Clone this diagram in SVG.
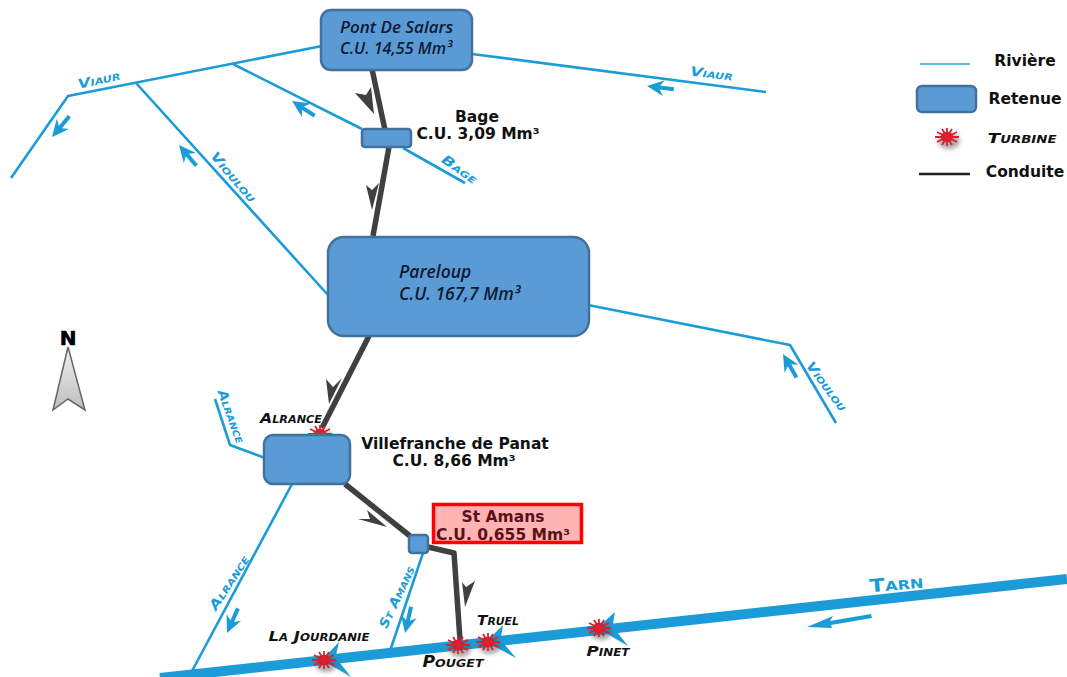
<svg xmlns="http://www.w3.org/2000/svg" width="1067" height="677" viewBox="0 0 1067 677">
<style>
.riv{fill:none;stroke:#1b9bd7;stroke-width:2.6;stroke-linejoin:round}
.pipe{fill:none;stroke:#404040;stroke-width:5.500;stroke-linejoin:round}
.res{fill:#5b9bd5;stroke:#41719c;stroke-width:2.5}
.arr{fill:#1b9bd7}
.garr{fill:#404040}
.lbl{font-family:"DejaVu Sans",sans-serif;font-weight:700;fill:#111;font-size:15.5px;text-anchor:middle}
.it{font-family:"Open Sans","DejaVu Sans",sans-serif;font-style:italic;font-weight:600;fill:#0d1a33;font-size:17px}
.rl{font-family:"DejaVu Sans",sans-serif;font-weight:700;font-style:italic;fill:#1b9bd7;font-size:13px;font-variant:small-caps;text-anchor:middle}
.tl{font-family:"DejaVu Sans",sans-serif;font-weight:700;font-style:italic;fill:#111;font-size:14px;font-variant:small-caps;text-anchor:middle}
.star{stroke:#dd2030;stroke-width:1.800;fill:none}
</style>
<defs>
<linearGradient id="ng" x1="0" y1="0" x2="0" y2="1"><stop offset="0" stop-color="#f0f0f0"/><stop offset="1" stop-color="#bdbdbd"/></linearGradient>
<filter id="sh" x="-50%" y="-50%" width="200%" height="200%"><feGaussianBlur stdDeviation="2"/></filter>
<g id="turb">
<ellipse cx="2" cy="4" rx="11" ry="8" fill="#555" opacity=".5" filter="url(#sh)"/>
<ellipse rx="6" ry="5" fill="#a81a26"/>
<path class="star" d="M-12 0H12M0-9V9M-10-5L10 5M-10 5L10-5M-5-8L5 8M-5 8L5-8"/>
</g>
<path id="blue" class="arr" d="M0 0L17-8L13-2L27-2V2L13 2L17 8Z"/>
</defs>

<g id="connectors">
<g id="rivers">
<path class="riv" d="M11 178L68 96L322 46"/>
<path class="riv" d="M233 64L362 129"/>
<path class="riv" d="M136 83L328 295"/>
<path class="riv" d="M472 54L766 92"/>
<path class="riv" d="M403 148L465 183"/>
<path class="riv" d="M588 305L790 345L836 423"/>
<path class="riv" d="M215 399L230 445L265 458"/>
<path class="riv" d="M292 484L191 673"/>
<path class="riv" d="M423 553L390 651"/>
<path d="M160 678L1067 579" fill="none" stroke="#1b9bd7" stroke-width="10"/>
</g>
<g id="flow-arrows">
<use href="#blue" transform="translate(52 137) rotate(-50)"/>
<use href="#blue" transform="translate(292 101) rotate(33)"/>
<use href="#blue" transform="translate(179 145) rotate(50)"/>
<use href="#blue" transform="translate(647 86) rotate(7)"/>
<use href="#blue" transform="translate(783 354) rotate(60)"/>
<use href="#blue" transform="translate(227 633) rotate(-66)"/>
<use href="#blue" transform="translate(405 633) rotate(-77)"/>
<path class="arr" d="M807 627L833 616L830 621L871 614L872 618L831 625L832 628Z"/>
<path class="arr" d="M597 628L615 612L613 624L617 632L628 646Z"/>
<path class="arr" d="M486 642L503 625L501 637L505 645L516 658Z"/>
<path class="arr" d="M322 660L339 642L336 655L340 663L351 677Z"/>
</g>
<g id="pipes">
<path class="pipe" d="M372 69L385 130"/>
<path class="pipe" d="M389 147L373 236"/>
<path class="pipe" d="M369 336L322 428"/>
<path class="pipe" d="M345 484L410 536"/>
<path class="pipe" d="M428 547L454 553L460 640"/>
</g>
<g id="pipe-arrows">
<path class="garr" d="M374 114L355 93L366 95L371 87Z"/>
<path class="garr" d="M372 210L366 185L372 190L379 183Z"/>
<path class="garr" d="M329 404L326 379L333 387L342 378Z"/>
<path class="garr" d="M387 527L358 519L370 519L367 510Z"/>
<path class="garr" d="M465 607L462 582L466 587L475 581Z"/>
</g>
</g>

<g id="node-pont-de-salars">
<rect class="res" x="321" y="10" width="151" height="60" rx="10"/>
<text class="it" x="340" y="33">Pont De Salars</text>
<text class="it" x="340" y="54" style="font-size:16.200px">C.U. 14,55 Mm³</text>
</g>
<g id="node-bage">
<rect class="res" x="362" y="129" width="49" height="18" rx="3"/>
<text class="lbl" x="477" y="122">Bage</text>
<text class="lbl" x="478" y="139">C.U. 3,09 Mm³</text>
</g>
<g id="node-pareloup">
<rect class="res" x="328" y="237" width="261" height="99" rx="16"/>
<text class="it" x="399" y="278" style="font-size:17.500px">Pareloup</text>
<text class="it" x="399" y="300" style="font-size:17.500px">C.U. 167,7 Mm³</text>
</g>
<g id="turbine-alrance">
<use href="#turb" x="320" y="434"/>
<text class="tl" x="291" y="423" textLength="62" lengthAdjust="spacingAndGlyphs">Alrance</text>
</g>
<g id="node-villefranche">
<rect class="res" x="264" y="435" width="86" height="49" rx="9"/>
<text class="lbl" x="455" y="449">Villefranche de Panat</text>
<text class="lbl" x="454" y="466">C.U. 8,66 Mm³</text>
</g>
<g id="node-st-amans-reservoir">
<rect class="res" x="409" y="535" width="19" height="18" rx="3"/>
</g>
<g id="node-st-amans-label">
<rect x="433.500" y="504.500" width="148" height="38" fill="#ffb3b3" stroke="#f00" stroke-width="3.500"/>
<text class="lbl" x="503" y="522" style="fill:#5a1018">St Amans</text>
<text class="lbl" x="503" y="540" style="fill:#5a1018">C.U. 0,655 Mm³</text>
</g>
<g id="turbine-la-jourdanie">
<use href="#turb" x="324" y="660"/>
<text class="tl" x="319" y="641" textLength="101" lengthAdjust="spacingAndGlyphs">La Jourdanie</text>
</g>
<g id="turbine-pouget">
<use href="#turb" x="458" y="645"/>
<text class="tl" x="453" y="667" textLength="61" lengthAdjust="spacingAndGlyphs" style="font-size:15px">Pouget</text>
</g>
<g id="turbine-truel">
<use href="#turb" x="488" y="642"/>
<text class="tl" x="498" y="625" textLength="42" lengthAdjust="spacingAndGlyphs">Truel</text>
</g>
<g id="turbine-pinet">
<use href="#turb" x="599" y="628"/>
<text class="tl" x="608" y="656" textLength="43" lengthAdjust="spacingAndGlyphs">Pinet</text>
</g>

<g id="river-labels">
<text class="rl" transform="translate(100 84) rotate(-13)" textLength="43" lengthAdjust="spacingAndGlyphs">Viaur</text>
<text class="rl" transform="translate(711 78) rotate(7)" textLength="43" lengthAdjust="spacingAndGlyphs">Viaur</text>
<text class="rl" transform="translate(230 180) rotate(49)" textLength="62" lengthAdjust="spacingAndGlyphs">Vioulou</text>
<text class="rl" transform="translate(823 389) rotate(53)" textLength="58" lengthAdjust="spacingAndGlyphs">Vioulou</text>
<text class="rl" transform="translate(457 173) rotate(35)" textLength="40" lengthAdjust="spacingAndGlyphs">Bage</text>
<text class="rl" transform="translate(227 418) rotate(70)" textLength="56" lengthAdjust="spacingAndGlyphs">Alrance</text>
<text class="rl" transform="translate(233 585) rotate(-57)" textLength="62" lengthAdjust="spacingAndGlyphs">Alrance</text>
<text class="rl" transform="translate(401 599) rotate(-65)" textLength="67" lengthAdjust="spacingAndGlyphs">St Amans</text>
<text class="rl" transform="translate(897 590) rotate(-5)" textLength="54" lengthAdjust="spacingAndGlyphs" style="font-size:18px;font-style:normal">Tarn</text>
</g>

<g id="north">
<text x="68" y="345" font-family="DejaVu Sans,sans-serif" font-weight="700" font-size="20" text-anchor="middle" fill="#000" stroke="#000" stroke-width=".6">N</text>
<path d="M68 347L85 410L68 399L53 410Z" fill="url(#ng)" stroke="#666" stroke-width="1.500"/>
</g>

<g id="legend">
<path d="M920 64H970" stroke="#5ebbe3" stroke-width="2"/>
<text class="lbl" x="1025" y="66">Rivière</text>
<rect class="res" x="917" y="86" width="59" height="26" rx="5"/>
<text class="lbl" x="1025" y="104">Retenue</text>
<use href="#turb" x="947" y="137"/>
<text class="tl" x="1022" y="143" textLength="69" lengthAdjust="spacingAndGlyphs">Turbine</text>
<path d="M919 174H970" stroke="#222" stroke-width="2.500"/>
<text class="lbl" x="1025" y="177">Conduite</text>
</g>
</svg>
